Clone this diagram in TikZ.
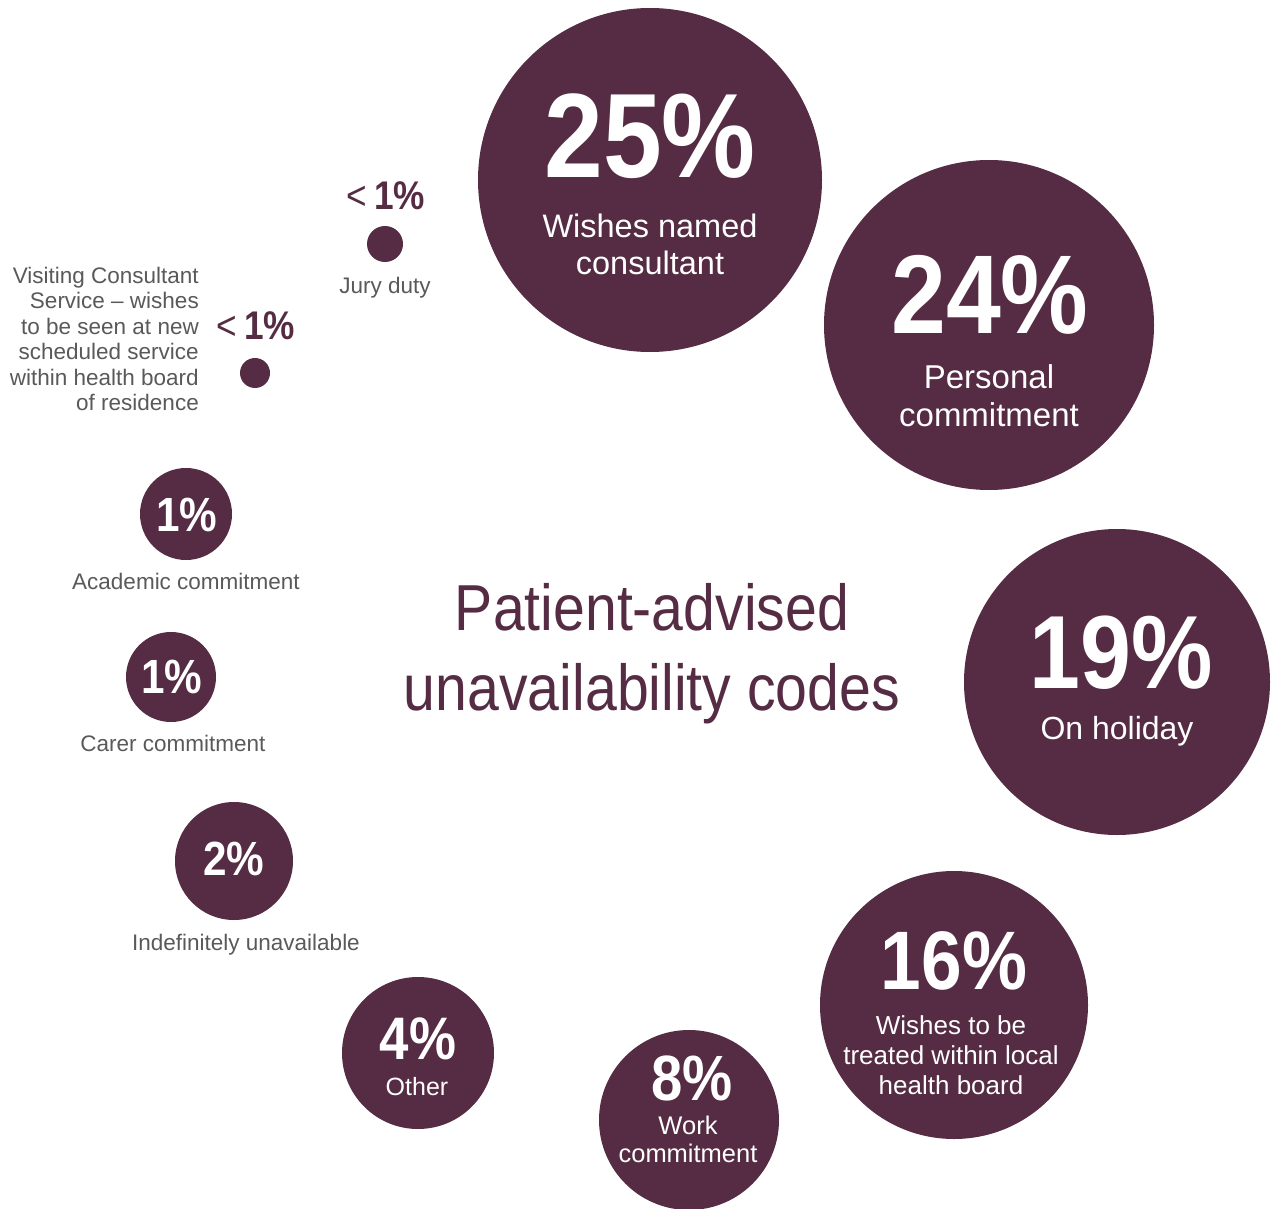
\documentclass[tikz,border=0pt]{standalone}
\usepackage{fontspec}
\setmainfont{Liberation Sans}
\newfontfamily\condfont[FakeStretch=0.88]{Liberation Sans}
\definecolor{plum}{HTML}{552C43}
\definecolor{labelgray}{HTML}{595959}
\tikzset{
  bubble/.style={circle,fill=plum,inner sep=0pt,minimum size=#1},
  pct/.style={text=white,inner sep=0pt,anchor=base,font=\condfont\bfseries\fontsize{#1}{#1}\selectfont},
  dotpct/.style={pct=#1,text=plum},
  blabel/.style n args={2}{text=white,inner sep=0pt,anchor=north,align=center,font=\fontsize{#1}{#2}\selectfont},
  glabel/.style={text=labelgray,inner sep=0pt,anchor=north,font=\fontsize{22.5}{25.4}\selectfont},
}
\begin{document}
\begin{tikzpicture}[x=1pt,y=-1pt]
\useasboundingbox (0,0) rectangle (1272,1209);
% large bubbles
\node[bubble=344] (c25) at (650,180) {};
\node[pct=120] (n25) at (650,178) {25\%};
\node[blabel={32.5}{37}] (l25) at (650,214) {Wishes named\\consultant};
\node[bubble=330] (c24) at (989,325) {};
\node[pct=112] (n24) at (990,333) {24\%};
\node[blabel={33}{38}] (l24) at (989,364) {Personal\\commitment};
\node[bubble=306] (c19) at (1117,682) {};
\node[pct=104] (n19) at (1121,688) {19\%};
\node[blabel={32}{37}] (l19) at (1117,716) {On holiday};
\node[bubble=268] (c16) at (954,1005) {};
\node[pct=83] (n16) at (954,989) {16\%};
\node[blabel={26}{30}] (l16) at (951,1015) {Wishes to be\\treated within local\\health board};
\node[bubble=180] (c8) at (689,1120) {};
\node[pct=64] (n8) at (692,1100) {8\%};
\node[blabel={25.5}{28}] (l8) at (688,1116) {Work\\commitment};
\node[bubble=152] (c4) at (418,1053) {};
\node[pct=60] (n4) at (418,1059) {4\%};
\node[blabel={25}{28}] (l4) at (417,1077) {Other};
% small bubbles
\node[bubble=118] (c2) at (234,861) {};
\node[pct=48] (n2) at (234,875) {2\%};
\node[glabel] (l2) at (246,934) {Indefinitely unavailable};
\node[bubble=92] (c1a) at (186,514) {};
\node[pct=48] (n1a) at (187,531) {1\%};
\node[glabel] (l1a) at (186,573) {Academic commitment};
\node[bubble=90] (c1c) at (171,677) {};
\node[pct=48] (n1c) at (172,693) {1\%};
\node[glabel] (l1c) at (173,735) {Carer commitment};
% dots
\node[bubble=36] (cjury) at (385,244) {};
\node[dotpct=40] (njury) at (386,210) {{\mdseries<}\,1\%};
\node[glabel] (ljury) at (385,277) {Jury duty};
\node[bubble=30] (cvisit) at (255,373) {};
\node[dotpct=40] (nvisit) at (256,339) {{\mdseries<}\,1\%};
\node[glabel,anchor=north east,align=right] (lvisit) at (199,267)
  {Visiting Consultant\\Service \textendash\ wishes\\to be seen at new\\scheduled service\\within health board\\of residence};
% title
\node[text=plum,inner sep=0pt,anchor=north,align=center,font=\condfont\fontsize{65}{80}\selectfont] (title) at (652,583)
  {Patient-advised\\unavailability codes};
\end{tikzpicture}
\end{document}
